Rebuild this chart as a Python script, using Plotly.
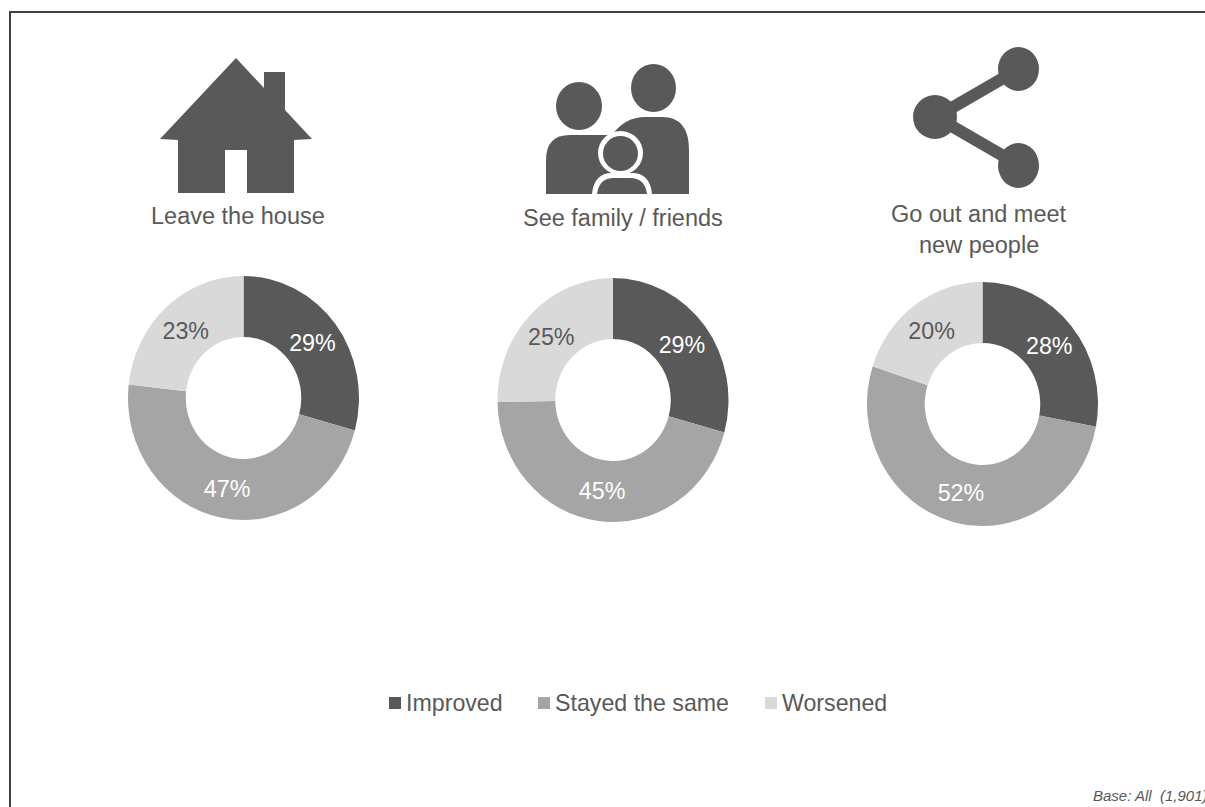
import plotly.graph_objects as go

W, H = 1205, 807
segments = ["Improved", "Stayed the same", "Worsened"]
house_vals = [29, 47, 23]
family_vals = [29, 45, 25]
people_vals = [28, 52, 20]
colors = ["#595959", "#a5a5a5", "#d9d9d9"]
text_colors = ["#ffffff", "#ffffff", "#595959"]
legend_left = [389, 538, 765]
INK = "#595959"
FONT = "Liberation Sans, Arial, sans-serif"

fig = go.Figure()

def px_x(x): return x / W
def px_y(y): return 1 - y / H

R = 119
centers = [(243.5, 398), (613, 400), (982.5, 404)]

def add_pie(vals, cx, cy, r):
    fig.add_trace(go.Pie(
        labels=segments, values=vals, sort=False, direction="clockwise", rotation=0,
        hole=0.5, marker=dict(colors=colors, line=dict(width=0)),
        texttemplate="%{value}%", textposition="inside", insidetextorientation="horizontal",
        textfont=dict(family=FONT, size=24, color=text_colors),
        hoverinfo="label+value",
        domain=dict(x=[px_x(cx - r), px_x(cx + r)], y=[px_y(cy + r), px_y(cy - r)]),
        showlegend=False,
    ))

for vals, (cx, cy) in zip([house_vals, family_vals, people_vals], centers):
    add_pie(vals, cx, cy, R)

shapes = []
def path(points_d, color=INK):
    shapes.append(dict(type="path", xref="paper", yref="paper", path=points_d,
                       fillcolor=color, line=dict(width=0), layer="above"))
def P(x, y): return f"{px_x(x):.5f},{px_y(y):.5f}"
def poly(pts, color=INK):
    path("M" + " L".join(P(*p) for p in pts) + " Z", color)
def oval(x0, x1, y0, y1, color=INK):
    shapes.append(dict(type="circle", xref="paper", yref="paper", x0=px_x(x0), x1=px_x(x1),
                       y0=px_y(y1), y1=px_y(y0), fillcolor=color, line=dict(width=0), layer="above"))
def rule(x0, y0, x1, y1, color, w):
    shapes.append(dict(type="line", xref="paper", yref="paper", x0=px_x(x0), x1=px_x(x1),
                       y0=px_y(y0), y1=px_y(y1), line=dict(color=color, width=w), layer="above"))
def box(x0, x1, y0, y1, color):
    shapes.append(dict(type="rect", xref="paper", yref="paper", x0=px_x(x0), x1=px_x(x1),
                       y0=px_y(y1), y1=px_y(y0), fillcolor=color, line=dict(width=0), layer="above"))

# frame
rule(10, 12, 10, H, "#404040", 2)
rule(9, 12, W, 12, "#404040", 2)

# house icon
poly([(236, 58), (264, 88), (264, 72), (285, 72), (285, 110), (312, 139), (294, 140), (294, 193),
      (247, 193), (247, 150), (225, 150), (225, 193), (178, 193), (178, 140), (160, 139)])

# family icon
oval(556, 602, 82, 130)
oval(631, 676, 64, 112)
path("M" + P(546, 194) + " L" + P(546, 160) + " Q" + P(546, 135) + " " + P(570, 135) + " L" + P(612, 135)
     + " L" + P(612, 194) + " Z")
path("M" + P(612, 194) + " L" + P(612, 135) + " Q" + P(625, 117) + " " + P(645, 117) + " L" + P(662, 117)
     + " Q" + P(689, 117) + " " + P(689, 150) + " L" + P(689, 194) + " Z")
oval(598, 643, 131, 175, "#ffffff")
oval(603, 638, 136, 171)
path("M" + P(592, 194) + " Q" + P(594, 173) + " " + P(612, 173) + " L" + P(632, 173) + " Q" + P(650, 173) + " "
     + P(652, 194) + " Z", "#ffffff")
path("M" + P(597, 194) + " Q" + P(599, 178) + " " + P(614, 178) + " L" + P(630, 178) + " Q" + P(645, 178) + " "
     + P(647, 194) + " Z")

# share icon
rule(936, 117, 1019, 69, INK, 12)
rule(936, 117, 1019, 165, INK, 12)
oval(913, 957, 95, 139)
oval(998, 1039, 47, 91)
oval(998, 1039, 143, 188)

notes = [
    ("Leave the house", 238, 216, 23.5, False, "center"),
    ("See family / friends", 623, 218, 23.5, False, "center"),
    ("Go out and meet", 979, 214, 23.5, False, "center"),
    ("new people", 979, 245, 23.5, False, "center"),
    ("Base: All  (1,901)", 1093, 795, 15, True, "left"),
]
# legend keys
for name, colour, left in zip(segments, colors, legend_left):
    box(left, left + 12, 697, 709, colour)
    notes.append((name, left + 17, 703, 23.2, False, "left"))

annotations = []
for text, x, y, size, italic, anchor in notes:
    annotations.append(dict(text=text, x=px_x(x), y=px_y(y), xref="paper", yref="paper", showarrow=False,
                            xanchor=anchor, yanchor="middle", borderpad=0, borderwidth=0,
                            font=dict(family=FONT, size=size, color=INK, style="italic" if italic else "normal")))

fig.update_layout(
    width=W, height=H, margin=dict(l=0, r=0, t=0, b=0), autosize=False,
    paper_bgcolor="#ffffff", shapes=shapes, annotations=annotations,
    font=dict(family=FONT, color=INK), showlegend=False,
)

# The page margin is removed, and the doughnuts get the reference's slightly tall aspect.
sx, sy = 115.5 / R, 122 / R
transforms = ",".join(
    f"'translate({cx},{cy}) scale({sx:.4f},{sy:.4f}) translate({-cx},{-cy})'" for cx, cy in centers
)
post = f"""
document.body.style.margin = '0';
var tf = [{transforms}];
document.querySelectorAll('.pielayer .trace').forEach(function (g, i) {{
  g.setAttribute('transform', tf[i]);
}});
"""
fig.write_html("out.html", post_script=post, config={"displayModeBar": False})
